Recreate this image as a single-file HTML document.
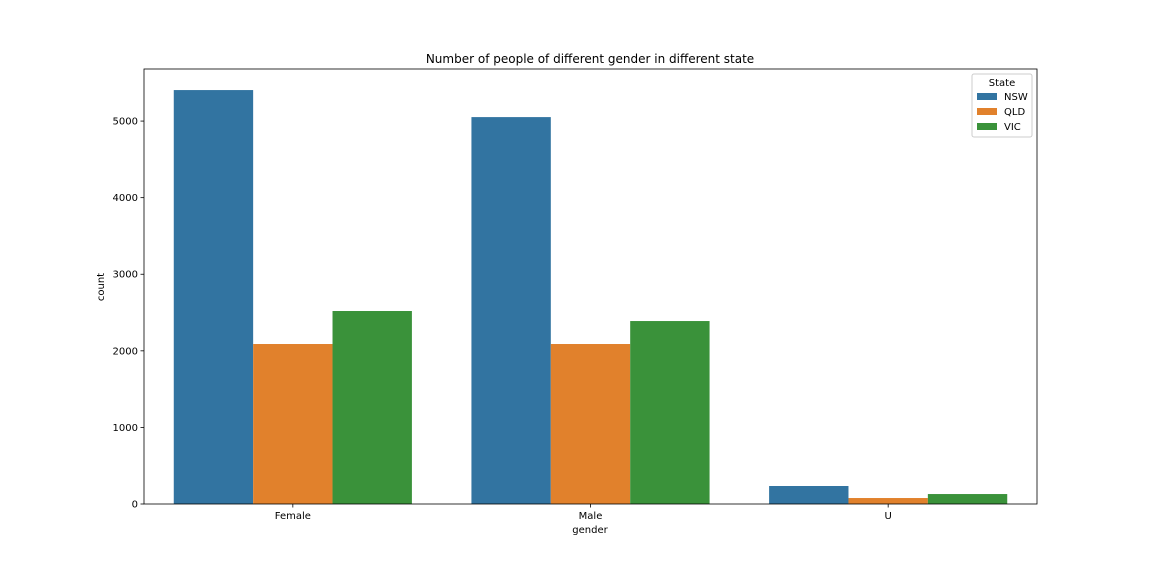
<!DOCTYPE html>
<html><head><meta charset="utf-8"><style>
body{margin:0;background:#fff;}
svg text{font-family:"DejaVu Sans","Liberation Sans",sans-serif;fill:#000;}
</style></head><body>
<svg id="chart" width="1152" height="576" xmlns="http://www.w3.org/2000/svg">
<rect width="1152" height="576" fill="#fff"/>
<text x="590" y="63" font-size="12" text-anchor="middle">Number of people of different gender in different state</text>
<g id="bars"></g>
<rect x="144" y="69" width="893" height="435" fill="none" stroke="#000" stroke-width="0.8"/>
<g id="yaxis"></g>
<g id="xaxis"></g>
<text x="0" y="0" font-size="10" text-anchor="middle" transform="translate(104,287) rotate(-90)">count</text>
<text x="590" y="533" font-size="10" text-anchor="middle">gender</text>
<g id="legend">
<rect x="972" y="74" width="60" height="63" fill="#fff" fill-opacity="0.8" stroke="#ccc" rx="2"/>
<text x="1002" y="86" font-size="10" text-anchor="middle">State</text>
</g>
</svg>
<script>
const categories=["Female","Male","U"];
const states=["NSW","QLD","VIC"];
const nsw=[5405,5052,235];
const qld=[2089,2089,78];
const vic=[2520,2389,130];
const yTicks=[0,1000,2000,3000,4000,5000];
const colors=["#3274a1","#e1812c","#3a923a"];
const series=[nsw,qld,vic];
const NS="http://www.w3.org/2000/svg";
const L=144,R=1037,T=69,B=504;
const xs=v=>L+(v+0.5)*(R-L)/3;
const ys=v=>B-v*(B-T)/5680;
function mk(t,a,p){const e=document.createElementNS(NS,t);for(const k in a)e.setAttribute(k,a[k]);p.appendChild(e);return e;}
const bars=document.getElementById('bars');
const bw=0.8/3;
series.forEach((s,si)=>{s.forEach((v,ci)=>{
 const x0=xs(ci-0.4+si*bw),x1=xs(ci-0.4+(si+1)*bw);
 const r=mk('rect',{x:x0,y:ys(v),width:x1-x0,height:B-ys(v),fill:colors[si]},bars);
 
 
});});
const ya=document.getElementById('yaxis');
yTicks.forEach(t=>{
 const y=ys(t);
 const l=mk('line',{x1:L-3.5,x2:L,y1:y,y2:y,stroke:'#000','stroke-width':0.8},ya);
 
 
 const tx=mk('text',{x:L-6,y:y+3.5,'font-size':10,'text-anchor':'end'},ya);
 tx.textContent=t;
 
 
});
const xa=document.getElementById('xaxis');
categories.forEach((c,i)=>{
 const x=xs(i);
 const l=mk('line',{x1:x,x2:x,y1:B,y2:B+3.5,stroke:'#000','stroke-width':0.8},xa);
 
 
 const tx=mk('text',{x:x,y:B+15,'font-size':10,'text-anchor':'middle'},xa);
 tx.textContent=c;
 
 
});
const lg=document.getElementById('legend');
states.forEach((s,i)=>{
 const y=93+i*15;
 const r=mk('rect',{x:977,y:y,width:20,height:7,fill:colors[i]},lg);
 
 
 const tx=mk('text',{x:1004,y:y+7,'font-size':10},lg);
 tx.textContent=s;
 
 
});
</script>
</body></html>
